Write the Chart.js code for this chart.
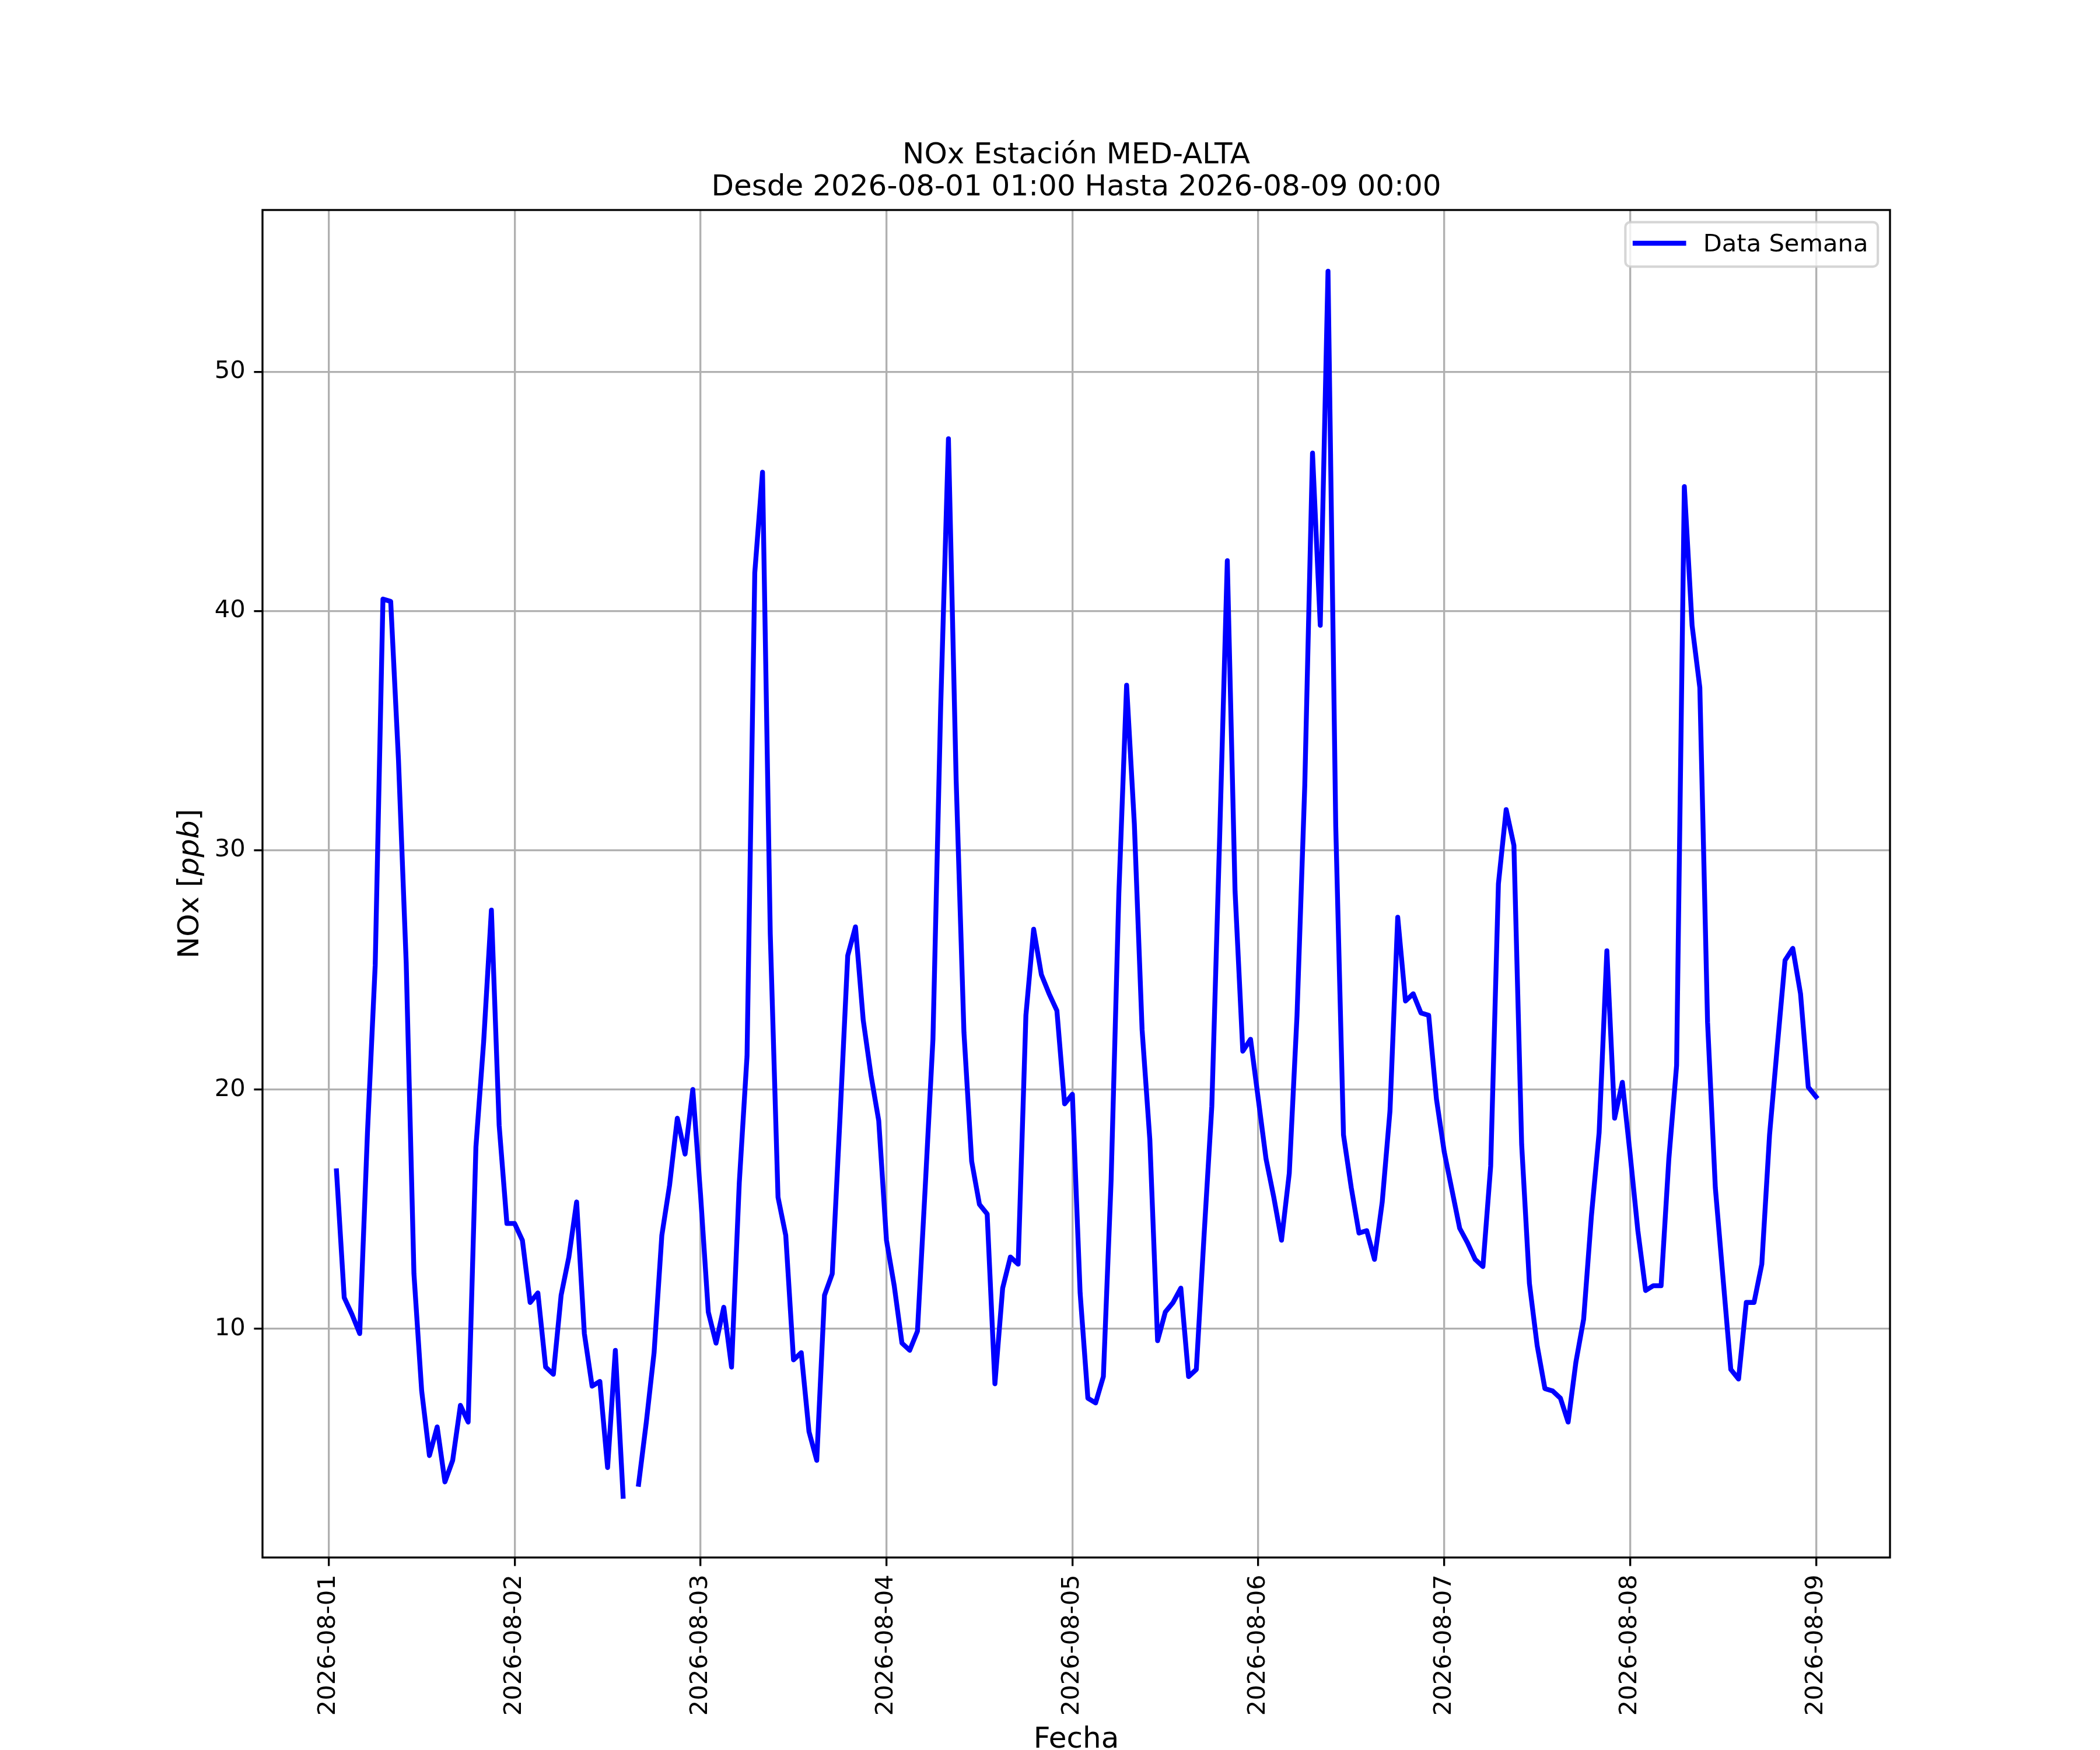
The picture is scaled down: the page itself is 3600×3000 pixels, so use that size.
<!DOCTYPE html>
<html>
<head>
<meta charset="utf-8">
<script src="https://cdn.jsdelivr.net/npm/chart.js@4.4.1/dist/chart.umd.min.js"></script>
<style>
  html, body { margin: 0; padding: 0; background: #ffffff; }
  #wrap { width: 3600px; height: 3000px; }
</style>
</head>
<body>
<div id="wrap"><canvas id="c" width="3600" height="3000"></canvas></div>
<script>
// ---- Data (hourly NOx, ppb) from 2026-08-01 01:00 to 2026-08-09 00:00 ----
const titleLines = ['NOx Estación MED-ALTA', 'Desde 2026-08-01 01:00 Hasta 2026-08-09 00:00'];
const seriesLabel = 'Data Semana';
const xLabel = 'Fecha';
const dayTicks = ['2026-08-01', '2026-08-02', '2026-08-03', '2026-08-04', '2026-08-05',
                  '2026-08-06', '2026-08-07', '2026-08-08', '2026-08-09'];
const yTicks = [10, 20, 30, 40, 50];

const day1 = [16.6, 11.3, 10.6, 9.8, 18.2, 25.2, 40.5, 40.4, 33.8, 25.3, 12.3, 7.4,
              4.7, 5.9, 3.6, 4.5, 6.8, 6.1, 17.6, 22.0, 27.5, 18.5, 14.4, 14.4];
const day2 = [13.7, 11.1, 11.5, 8.4, 8.1, 11.4, 13.0, 15.3, 9.8, 7.6, 7.8, 4.2,
              9.1, 3.0, null, 3.5, 6.1, 9.0, 13.9, 16.0, 18.8, 17.3, 20.0, 15.6];
const day3 = [10.7, 9.4, 10.9, 8.4, 16.1, 21.4, 41.6, 45.8, 26.5, 15.5, 13.9, 8.7,
              9.0, 5.7, 4.5, 11.4, 12.3, 18.8, 25.6, 26.8, 22.9, 20.6, 18.7, 13.7];
const day4 = [11.8, 9.4, 9.1, 9.9, 15.9, 22.1, 36.0, 47.2, 32.9, 22.4, 17.0, 15.2,
              14.8, 7.7, 11.7, 13.0, 12.7, 23.1, 26.7, 24.8, 24.0, 23.3, 19.4, 19.8];
const day5 = [11.5, 7.1, 6.9, 8.0, 16.2, 28.2, 36.9, 31.1, 22.5, 17.9, 9.5, 10.7,
              11.1, 11.7, 8.0, 8.3, 13.9, 19.3, 30.4, 42.1, 28.3, 21.6, 22.1, 19.6];
const day6 = [17.1, 15.5, 13.7, 16.5, 23.1, 32.7, 46.6, 39.4, 54.2, 31.0, 18.1, 15.9,
              14.0, 14.1, 12.9, 15.3, 19.1, 27.2, 23.7, 24.0, 23.2, 23.1, 19.6, 17.4];
const day7 = [15.8, 14.2, 13.6, 12.9, 12.6, 16.8, 28.6, 31.7, 30.2, 17.7, 11.9, 9.3,
              7.5, 7.4, 7.1, 6.1, 8.6, 10.4, 14.7, 18.2, 25.8, 18.8, 20.3, 17.3];
const day8 = [14.1, 11.6, 11.8, 11.8, 17.1, 21.0, 45.2, 39.4, 36.8, 22.8, 15.9, 12.1,
              8.3, 7.9, 11.1, 11.1, 12.7, 18.1, 21.8, 25.4, 25.9, 24.0, 20.1, 19.7];

const nox = [].concat(day1, day2, day3, day4, day5, day6, day7, day8);
// x position = hours since 2026-08-01 00:00 (first sample is 01:00)
const hours = nox.map((_, i) => i + 1);

// matplotlib-like 5% autoscale margins
const valid = nox.filter(v => v !== null);
const yLo = Math.min(...valid), yHi = Math.max(...valid);
const yPad = 0.05 * (yHi - yLo);
const xLo = hours[0], xHi = hours[hours.length - 1];
const xPad = 0.05 * (xHi - xLo);

// ---- Sizes (300 dpi matplotlib look) ----
const PT = 300 / 72;
const FONT = "'DejaVu Sans', 'Liberation Sans', sans-serif";
const TICK_SIZE = 10 * PT;
const LABEL_SIZE = 12 * PT;

const mplDecor = {
  id: 'mplDecor',
  afterDatasetsDraw(chart) {
    const { ctx, chartArea: a } = chart;
    ctx.save();
    // spines
    ctx.strokeStyle = '#000000';
    ctx.lineWidth = 0.8 * PT;
    ctx.strokeRect(a.left, a.top, a.right - a.left, a.bottom - a.top);

    // legend (upper right, inside axes)
    const fs = TICK_SIZE;
    ctx.font = fs + 'px ' + FONT;
    const label = chart.data.datasets[0].label;
    const tw = ctx.measureText(label).width;
    const pad = 0.4 * fs, handle = 2.0 * fs, gap = 0.8 * fs;
    const w = pad + handle + gap + tw + pad;
    const h = 2 * pad + 1.03 * fs;
    const right = a.right - 0.5 * fs;
    const top = a.top + 0.5 * fs;
    const left = right - w;
    const r = 0.2 * fs;
    ctx.beginPath();
    ctx.moveTo(left + r, top);
    ctx.lineTo(right - r, top);
    ctx.arcTo(right, top, right, top + r, r);
    ctx.lineTo(right, top + h - r);
    ctx.arcTo(right, top + h, right - r, top + h, r);
    ctx.lineTo(left + r, top + h);
    ctx.arcTo(left, top + h, left, top + h - r, r);
    ctx.lineTo(left, top + r);
    ctx.arcTo(left, top, left + r, top, r);
    ctx.closePath();
    ctx.fillStyle = 'rgba(255,255,255,0.8)';
    ctx.fill();
    ctx.strokeStyle = 'rgba(204,204,204,0.8)';
    ctx.lineWidth = 1.0 * PT;
    ctx.stroke();
    const ly = top + h / 2 - 2;
    ctx.beginPath();
    ctx.moveTo(left + pad, ly);
    ctx.lineTo(left + pad + handle, ly);
    ctx.strokeStyle = chart.data.datasets[0].borderColor;
    ctx.lineWidth = chart.data.datasets[0].borderWidth;
    ctx.lineCap = 'square';
    ctx.stroke();
    ctx.fillStyle = '#000000';
    ctx.textAlign = 'left';
    ctx.textBaseline = 'alphabetic';
    ctx.fillText(label, left + pad + handle + gap, top + pad + 0.8 * fs);
    ctx.restore();
  },
  afterDraw(chart) {
    const { ctx, chartArea: a } = chart;
    const cx = (a.left + a.right) / 2;
    ctx.save();
    ctx.fillStyle = '#000000';
    ctx.font = LABEL_SIZE + 'px ' + FONT;
    ctx.textAlign = 'center';
    ctx.textBaseline = 'alphabetic';
    // title (two lines)
    ctx.fillText(titleLines[0], cx, a.top - 25 - 55);
    ctx.fillText(titleLines[1], cx, a.top - 25);
    // x label
    ctx.fillText(xLabel, cx, chart.height - 4);
    // y label: NOx [ppb] with italic ppb
    const normal = LABEL_SIZE + 'px ' + FONT;
    const italic = 'italic ' + LABEL_SIZE + 'px ' + FONT;
    const parts = [['NOx [', normal], ['ppb', italic], [']', normal]];
    let total = 0;
    parts.forEach(p => { ctx.font = p[1]; total += ctx.measureText(p[0]).width; });
    ctx.translate(340, (a.top + a.bottom) / 2);
    ctx.rotate(-Math.PI / 2);
    ctx.textAlign = 'left';
    let x = -total / 2;
    parts.forEach(p => { ctx.font = p[1]; ctx.fillText(p[0], x, 0); x += ctx.measureText(p[0]).width; });
    ctx.restore();
  }
};

const gridCommon = {
  display: true,
  drawOnChartArea: true,
  drawTicks: true,
  color: '#b0b0b0',
  lineWidth: 0.8 * PT,
  tickColor: '#000000',
  tickWidth: 0.8 * PT,
  tickLength: 3.5 * PT
};

new Chart(document.getElementById('c'), {
  type: 'line',
  data: {
    datasets: [{
      label: seriesLabel,
      data: nox.map((v, i) => ({ x: hours[i], y: v })),
      borderColor: '#0000ff',
      backgroundColor: '#0000ff',
      borderWidth: 2 * PT,
      pointRadius: 0,
      pointHoverRadius: 0,
      tension: 0,
      fill: false,
      spanGaps: false,
      borderJoinStyle: 'round',
      borderCapStyle: 'square'
    }]
  },
  options: {
    responsive: false,
    maintainAspectRatio: false,
    devicePixelRatio: 1,
    animation: false,
    events: [],
    layout: { padding: { left: 0, top: 360, right: 360, bottom: 0 } },
    plugins: {
      legend: { display: false },
      title: { display: false },
      tooltip: { enabled: false }
    },
    scales: {
      x: {
        type: 'linear',
        position: 'bottom',
        min: xLo - xPad,
        max: xHi + xPad,
        afterBuildTicks: (scale) => { scale.ticks = dayTicks.map((_, i) => ({ value: i * 24 })); },
        afterFit: (scale) => { scale.height = 330; },
        grid: gridCommon,
        border: { display: false },
        ticks: {
          autoSkip: false,
          minRotation: 90,
          maxRotation: 90,
          padding: 3.5 * PT,
          color: '#000000',
          font: { family: FONT, size: TICK_SIZE },
          callback: (value, index) => dayTicks[index]
        }
      },
      y: {
        type: 'linear',
        position: 'left',
        min: yLo - yPad,
        max: yHi + yPad,
        afterBuildTicks: (scale) => { scale.ticks = yTicks.map(v => ({ value: v })); },
        afterFit: (scale) => { scale.width = 450; },
        grid: gridCommon,
        border: { display: false },
        ticks: {
          padding: 3.5 * PT,
          color: '#000000',
          font: { family: FONT, size: TICK_SIZE },
          callback: (value) => String(value)
        }
      }
    }
  },
  plugins: [mplDecor]
});
</script>
</body>
</html>
